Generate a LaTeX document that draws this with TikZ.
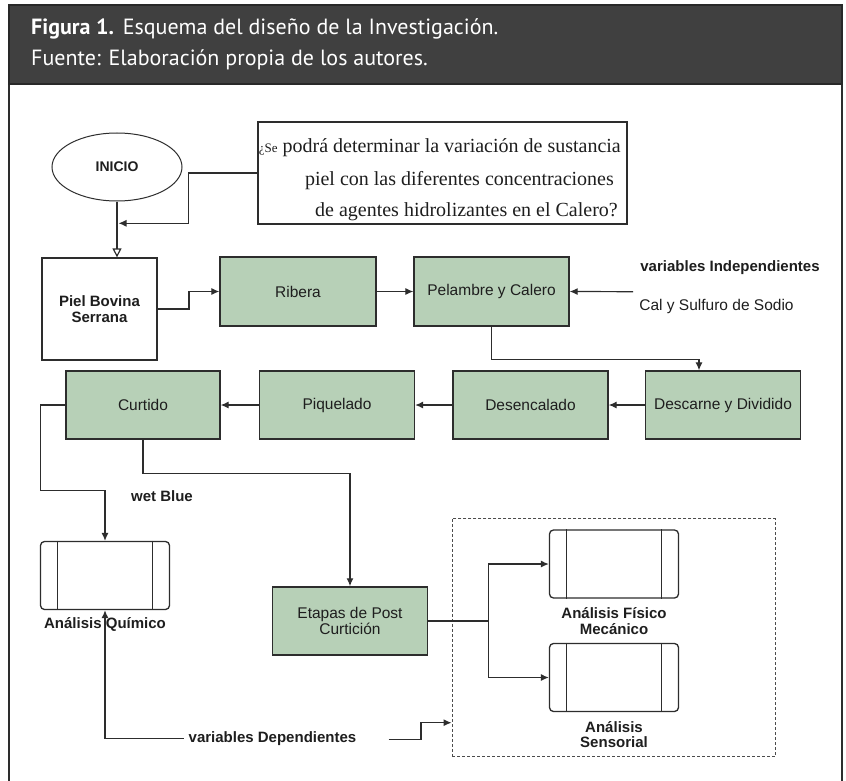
\documentclass[tikz,border=0pt]{standalone}
\usepackage{fontspec}
\setmainfont{Liberation Sans}
\newfontfamily\hdrfont{PT Sans}
\newfontfamily\qfont{Liberation Serif}
\usetikzlibrary{arrows.meta,shapes.geometric}
\definecolor{boxgreen}{RGB}{183,208,183}
\definecolor{hdr}{RGB}{64,64,64}
\definecolor{ink}{RGB}{45,45,45}
\definecolor{txt}{RGB}{30,30,30}
\begin{document}
\begin{tikzpicture}[x=1pt,y=-1pt,
  base/.style={draw=ink, line width=1.3pt, inner sep=0pt, align=center, text=txt},
  proc/.style={base, rectangle, fill=boxgreen, minimum width=155pt, minimum height=68pt, font=\fontsize{15.5}{16}\selectfont},
  sub/.style={base, rectangle, rounded corners=4pt, minimum width=129pt, minimum height=68pt},
  conn/.style={draw=ink, line width=1.2pt, -{Latex[length=8pt,width=7pt]}},
  lbl/.style={font=\bfseries\fontsize{15}{15.6}\selectfont, inner sep=0pt, align=center, text=txt},
  qline/.style={anchor=base east, inner sep=0pt, text=txt, font=\qfont\fontsize{20}{20}\selectfont},
  hdrtxt/.style={anchor=base west, inner sep=0pt, text=white, font=\hdrfont\fontsize{22}{22}\selectfont}
]
\useasboundingbox (0,0) rectangle (846,781);
% frame and header
\fill[white] (9,84) rectangle (842,781);
\draw[ink, line width=1.8pt] (9,84) -- (9,781) (842,84) -- (842,781);
\filldraw[fill=hdr, draw=ink!90!black, line width=1.8pt] (9,4.7) rectangle (842,84);
\node[hdrtxt] (titulo) at (31,35) {\textbf{Figura 1.}\hspace{0.4em}Esquema del diseño de la Investigación.};
\node[hdrtxt] (fuente) at (31,65.7) {Fuente: Elaboración propia de los autores.};

% top
\node[base, ellipse, line width=1pt, minimum width=130pt, minimum height=68pt, font=\bfseries\fontsize{14}{15}\selectfont] (inicio) at (117,167) {INICIO};
\node[base, rectangle, minimum width=369pt, minimum height=102pt] (pregunta) at (442.5,173) {};
\node[qline] (q1) at (621,153) {{\fontsize{13}{13}\selectfont ¿Se} podrá determinar la variación de sustancia};
\node[qline] (q2) at (614,185) {piel con las diferentes concentraciones};
\node[qline] (q3) at (618,216.7) {de agentes hidrolizantes en el Calero?};

% row 1
\node[base, rectangle, fill=white, minimum width=115pt, minimum height=102pt, font=\bfseries\fontsize{15}{15.6}\selectfont] (piel) at (99.5,309) {Piel Bovina\\Serrana};
\node[proc, minimum width=156pt, minimum height=69pt] (ribera) at (298,291.5) {Ribera};
\node[proc, minimum height=69pt] (pelambre) at (491.5,291.5) {Pelambre y Calero};
\node[lbl, anchor=center] (indep) at (730,268) {variables Independientes};
\node[font=\fontsize{15.5}{16}\selectfont, inner sep=0pt, text=txt] (cal) at (716.5,306) {Cal y Sulfuro de Sodio};
\coordinate (indepR) at (633,291.7);

% row 2
\node[proc] (descarne) at (723,405) {Descarne y Dividido};
\node[proc] (desencalado) at (530.5,405) {Desencalado};
\node[proc] (piquelado) at (337,405) {Piquelado};
\node[proc, minimum width=154pt] (curtido) at (143,405) {Curtido};

% lower part
\node[lbl] (wetblue) at (162,496) {wet Blue};
\node[sub] (quimico) at (105,575.5) {};
\node[proc, line width=1.5pt] (etapas) at (350,621) {Etapas de Post\\Curtición};
\node[draw=ink!85, line width=0.9pt, dash pattern=on 3pt off 2pt, rectangle, inner sep=0pt, minimum width=323pt, minimum height=238.4pt] (grupo) at (613.5,637.5) {};
\node[sub] (fisico) at (614,564) {};
\node[sub] (sensorial) at (614,677.5) {};
\foreach \b in {quimico,fisico,sensorial}{
  \draw[ink, line width=1.1pt] ([xshift=18pt]\b.north west) -- ([xshift=18pt]\b.south west);
  \draw[ink, line width=1.1pt] ([xshift=-18pt]\b.north east) -- ([xshift=-18pt]\b.south east);
}
\node[lbl] (dep) at (272.5,738.5) {variables Dependientes};
\coordinate (depR) at (388.6,739.7);
\coordinate (junta) at (118.5,223.3);

% connectors
\draw[ink, line width=1.2pt, -{Triangle[open,length=9pt,width=9pt]}] (inicio.south) -- (inicio.south |- piel.north);
\draw[conn] (pregunta.west) -- (188.7,173) -- (188.7,223.3) -- (junta);
\draw[conn] (piel.east) -- (189,309) |- (ribera.west);
\draw[conn] (ribera.east) -- (pelambre.west);
\draw[conn] (indepR) -- (pelambre.east);
\draw[conn] (pelambre.south) -- (491.5,359.3) -| ([xshift=-24pt]descarne.north);
\draw[conn] (descarne.west) -- (desencalado.east);
\draw[conn] (desencalado.west) -- (piquelado.east);
\draw[conn] (piquelado.west) -- (curtido.east);
\draw[conn] (curtido.west) -- (40.5,405) -- (40.5,490.7) -| (quimico.north);
\draw[conn] (curtido.south) -- (143,473.3) -| (etapas.north);
\draw[conn] (etapas.east) -- (488.4,621) |- (fisico.west);
\draw[conn] (etapas.east) -- (488.4,621) |- (sensorial.west);
\draw[conn] ([xshift=-5pt]dep.west) -| (quimico.south);
\draw[conn] (depR) -- (421,739.7) -- (421,722.7) -- ([yshift=-85.2pt]grupo.west);

% labels under subprocess boxes
\node[lbl] (lquimico) at (105,624.3) {Análisis Químico};
\node[lbl] (lfisico) at (614,621) {Análisis Físico\\Mecánico};
\node[lbl] (lsensorial) at (614,734.5) {Análisis\\Sensorial};
\end{tikzpicture}
\end{document}
